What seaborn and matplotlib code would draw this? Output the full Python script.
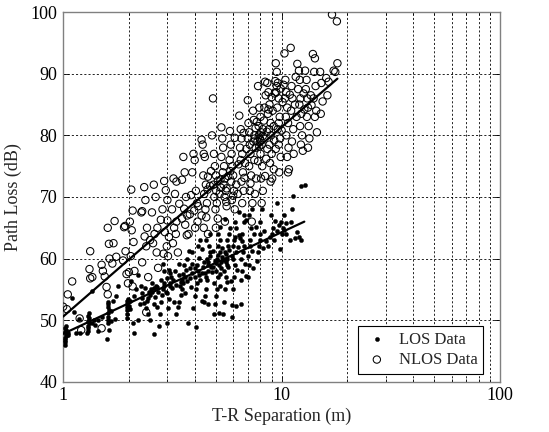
import matplotlib
matplotlib.use("Agg")
import matplotlib.pyplot as plt
import seaborn as sns
import pandas as pd
from matplotlib.ticker import FixedLocator, NullFormatter, FixedFormatter

# ---------------- data ----------------
los_points = [
    (1.02, 46.0), (1.02, 46.4), (1.02, 46.8), (1.02, 47.2), (1.03, 47.5), (1.03, 47.8), (1.02, 48.1),
    (1.03, 48.4), (1.02, 48.8), (1.03, 49.0), (1.05, 47.6), (1.05, 48.0),
    (1.1, 53.6), (1.12, 51.4), (1.18, 50.2), (1.2, 47.9), (1.15, 48.0),
    (1.3, 48.3), (1.3, 48.7), (1.3, 49.1), (1.31, 49.5), (1.3, 49.9), (1.31, 50.3), (1.3, 50.7),
    (1.32, 51.1), (1.35, 54.8), (1.28, 47.9), (1.35, 49.6), (1.38, 50.0), (1.45, 48.2), (1.5, 50.5),
    (1.45, 50.0), (1.4, 49.2),
    (1.6, 49.6), (1.6, 50.1), (1.61, 50.6), (1.6, 51.1), (1.62, 51.6), (1.6, 52.1), (1.61, 52.7),
    (1.6, 53.0), (1.58, 47.0), (1.62, 48.4), (1.65, 49.8), (1.65, 51.5),
    (1.72, 50.2), (1.75, 54.0), (1.78, 55.6), (1.7, 53.2),
    (1.95, 50.3), (1.96, 51.0), (1.95, 51.6), (1.97, 52.1), (1.96, 52.6), (1.95, 53.1), (1.98, 53.5),
    (2.0, 52.3), (2.02, 51.8), (2.05, 56.4), (2.1, 48.0), (2.08, 49.5), (2.12, 54.0), (2.15, 55.1),
    (2.2, 57.4), (2.25, 52.6), (2.2, 50.1), (2.3, 53.6), (2.28, 55.5), (1.98, 52.9), (2.02, 53.2),
    (2.3, 54.4),
    (2.4, 52.0), (2.42, 53.1), (2.45, 53.6), (2.5, 54.1), (2.48, 54.6), (2.52, 55.1), (2.55, 56.0),
    (2.5, 50.1), (2.45, 51.0), (2.6, 47.8), (2.6, 52.6), (2.62, 53.8), (2.65, 55.6), (2.38, 55.2),
    (2.35, 52.8), (2.55, 54.6), (2.6, 55.2), (2.7, 55.4),
    (2.75, 49.1), (2.78, 51.0), (2.8, 53.0), (2.82, 54.1), (2.85, 55.1), (2.88, 56.0), (2.9, 58.0),
    (2.85, 59.1), (2.72, 54.6), (2.7, 52.2), (2.95, 54.6), (2.8, 56.6), (2.9, 55.5),
    (3.0, 49.5), (3.02, 52.0), (3.05, 53.5), (3.0, 54.5), (3.08, 55.5), (3.1, 56.0), (3.12, 57.0),
    (3.05, 58.1), (3.15, 55.2), (3.2, 53.0), (3.18, 56.6), (3.0, 56.9), (3.1, 57.6), (3.25, 58.0),
    (3.3, 51.0), (3.35, 52.1), (3.4, 53.0), (3.45, 54.1), (3.5, 55.0), (3.55, 56.0), (3.5, 56.6),
    (3.6, 57.0), (3.65, 58.1), (3.58, 59.0), (3.7, 60.0), (3.75, 61.2), (3.72, 49.6), (3.42, 55.6),
    (3.38, 57.4), (3.62, 54.5), (3.8, 56.8), (3.85, 55.4), (3.3, 55.8), (3.45, 56.2), (3.55, 57.5),
    (3.7, 56.3), (3.8, 58.4), (3.9, 59.2), (3.4, 59.2), (3.9, 61.0),
    (4.05, 48.9), (3.95, 52.0), (4.0, 54.0), (4.05, 55.0), (4.1, 56.0), (4.0, 57.0), (4.15, 58.0),
    (4.1, 59.0), (4.2, 60.1), (4.15, 62.0), (4.22, 63.0), (3.9, 57.7), (4.25, 56.5), (4.3, 53.2),
    (4.3, 57.6), (4.0, 58.5), (4.2, 57.3), (4.35, 58.6), (4.3, 61.5),
    (4.4, 53.0), (4.45, 54.0), (4.5, 55.0), (4.55, 56.5), (4.5, 57.0), (4.6, 58.0), (4.62, 59.0),
    (4.55, 60.0), (4.68, 61.0), (4.65, 62.0), (4.7, 64.0), (4.48, 57.6), (4.75, 58.6), (4.58, 52.6),
    (4.4, 59.5), (4.6, 59.4), (4.7, 60.4), (4.8, 57.8), (4.85, 61.2), (4.5, 63.0),
    (4.9, 51.0), (4.95, 52.6), (5.0, 54.0), (5.05, 55.0), (4.9, 56.0), (5.1, 57.0), (5.0, 58.0),
    (5.15, 59.0), (5.05, 60.0), (5.2, 61.0), (5.1, 62.0), (5.2, 63.0), (5.12, 64.0), (5.25, 57.5),
    (5.3, 59.4), (4.85, 58.6), (4.95, 59.6), (5.25, 55.6), (5.15, 51.1), (5.0, 59.3), (5.1, 60.6),
    (5.3, 58.5), (5.35, 61.7), (5.2, 65.2),
    (5.4, 51.0), (5.45, 53.0), (5.5, 55.0), (5.55, 57.0), (5.45, 58.0), (5.6, 59.0), (5.55, 59.5),
    (5.65, 60.0), (5.5, 61.0), (5.7, 62.0), (5.6, 63.0), (5.75, 64.0), (5.8, 65.0), (5.62, 56.2),
    (5.35, 60.3), (5.45, 59.7), (5.55, 60.8), (5.7, 58.7), (5.75, 61.4), (5.5, 66.4),
    (5.95, 50.6), (5.9, 52.5), (6.0, 55.0), (6.05, 57.0), (6.1, 59.0), (6.0, 60.0), (6.15, 61.0),
    (6.05, 63.0), (6.2, 65.0), (6.1, 66.0), (6.25, 58.2), (5.85, 56.4), (6.2, 52.3), (6.3, 61.9),
    (5.9, 60.4), (6.0, 62.1), (6.1, 63.5), (6.35, 63.8),
    (6.5, 52.7), (6.55, 56.5), (6.6, 58.0), (6.5, 60.0), (6.65, 61.0), (6.7, 62.0), (6.6, 64.0),
    (6.75, 66.0), (6.7, 67.0), (6.45, 63.3), (6.8, 59.2), (6.85, 57.1), (6.6, 62.8), (6.4, 67.5),
    (6.9, 66.2),
    (7.0, 57.0), (7.1, 59.0), (7.05, 60.5), (7.2, 62.0), (7.15, 63.0), (7.25, 65.0), (7.1, 67.0),
    (7.3, 68.0), (7.35, 61.2), (7.4, 58.4), (7.5, 64.0),
    (7.7, 59.6), (7.8, 61.0), (7.9, 62.0), (8.0, 63.0), (7.95, 66.0), (8.1, 68.0), (8.2, 61.7),
    (8.3, 64.5), (7.6, 65.1), (8.0, 64.0), (8.5, 62.9),
    (8.7, 62.0), (8.8, 63.5), (9.0, 64.0), (9.1, 65.0), (8.9, 67.0), (9.3, 66.1), (9.2, 63.0),
    (9.5, 69.0), (9.5, 64.5), (9.7, 65.5),
    (9.8, 61.5), (10.0, 64.0), (10.1, 65.0), (9.9, 66.0), (10.3, 67.0), (10.2, 64.6), (10.5, 65.8),
    (10.5, 64.0),
    (10.9, 63.0), (11.0, 66.0), (11.1, 68.0), (11.3, 70.2), (11.5, 63.3), (11.7, 64.4),
    (12.3, 63.0), (12.3, 71.8), (12.0, 63.5), (12.8, 71.9),
]

nlos_points = [
    (1.0, 52.2), (1.04, 51.8), (1.05, 54.2), (1.1, 56.3), (1.19, 50.3), (1.21, 48.4),
    (1.33, 61.2), (1.32, 58.3), (1.36, 57.0), (1.33, 56.8), (1.5, 59.0), (1.52, 58.0), (1.55, 57.1),
    (1.6, 65.0), (1.62, 62.4), (1.63, 60.0), (1.58, 55.4), (1.6, 54.2), (1.5, 48.7),
    (1.72, 66.1), (1.7, 62.5), (1.75, 60.3), (1.68, 59.2), (1.92, 65.3), (1.9, 65.1), (1.93, 61.2),
    (1.95, 57.5), (1.98, 56.0), (1.88, 59.7),
    (2.05, 71.2), (2.08, 67.8), (2.02, 66.0), (2.06, 64.6), (2.1, 62.7), (2.04, 60.4), (2.12, 58.0),
    (2.08, 55.5), (2.0, 57.8),
    (2.35, 71.6), (2.38, 69.5), (2.3, 67.7), (2.42, 65.0), (2.36, 63.6), (2.4, 62.0), (2.3, 59.4),
    (2.45, 57.0), (2.4, 51.3), (2.28, 67.5),
    (2.6, 72.0), (2.65, 70.0), (2.55, 67.5), (2.7, 65.0), (2.62, 64.0), (2.58, 62.5), (2.68, 61.0),
    (2.72, 58.5), (2.5, 63.0), (2.8, 66.3),
    (2.9, 72.6), (2.95, 71.1), (2.85, 68.0), (3.0, 66.2), (2.92, 64.3), (2.98, 62.0), (2.88, 60.8),
    (3.02, 60.4), (3.05, 63.5), (3.0, 69.5),
    (3.2, 73.0), (3.25, 70.5), (3.15, 68.0), (3.3, 66.0), (3.22, 65.0), (3.28, 64.0), (3.18, 62.5),
    (3.35, 61.0), (3.3, 72.5), (3.4, 68.9),
    (3.55, 76.5), (3.6, 74.0), (3.5, 72.8), (3.65, 70.0), (3.58, 68.1), (3.7, 67.0), (3.62, 65.5),
    (3.75, 64.0), (3.68, 63.8), (3.5, 66.5), (3.8, 67.2),
    (3.95, 77.0), (4.0, 76.0), (3.9, 74.0), (4.05, 71.0), (4.1, 69.0), (3.98, 67.8), (4.12, 66.0),
    (4.02, 65.0), (4.15, 68.5), (3.85, 70.3),
    (4.3, 79.3), (4.35, 78.5), (4.4, 77.0), (4.45, 76.5), (4.38, 73.5), (4.5, 72.0), (4.42, 70.5),
    (4.55, 69.0), (4.48, 68.0), (4.52, 66.7), (4.4, 65.0), (4.6, 64.0), (4.58, 71.2), (4.3, 67.0),
    (4.7, 71.8), (4.6, 73.3),
    (4.85, 86.0), (4.8, 80.0), (4.9, 77.0), (4.95, 75.0), (5.0, 73.5), (4.88, 72.0), (5.02, 71.0),
    (4.92, 70.0), (5.05, 69.0), (4.98, 68.0), (5.1, 66.5), (5.0, 65.0), (4.75, 74.2), (5.1, 72.6),
    (5.3, 81.3), (5.35, 79.5), (5.4, 78.0), (5.3, 76.5), (5.45, 75.0), (5.38, 74.0), (5.5, 73.0),
    (5.42, 72.0), (5.55, 71.0), (5.48, 70.0), (5.6, 68.5), (5.5, 66.0), (5.28, 71.5), (5.58, 69.2),
    (5.2, 70.5), (5.25, 72.8), (5.6, 71.4), (5.7, 73.4),
    (5.8, 80.7), (5.85, 78.5), (5.9, 77.0), (5.78, 76.0), (5.95, 75.0), (6.0, 73.5), (5.88, 72.5),
    (6.05, 71.0), (5.92, 69.5), (6.1, 68.0), (6.0, 70.2), (5.82, 74.2), (6.2, 72.0), (6.3, 70.5),
    (6.1, 79.6),
    (6.4, 83.2), (6.5, 81.0), (6.55, 79.5), (6.45, 78.0), (6.6, 77.0), (6.5, 76.0), (6.65, 74.0),
    (6.55, 72.5), (6.7, 71.0), (6.6, 69.0), (6.35, 75.3), (6.75, 73.1), (6.8, 75.5), (6.9, 77.8),
    (6.7, 80.4),
    (7.0, 85.7), (7.05, 82.0), (7.1, 80.5), (7.0, 79.5), (7.15, 78.5), (7.2, 77.0), (7.1, 75.0),
    (7.25, 73.5), (7.15, 71.0), (7.3, 66.0), (7.35, 69.0), (7.4, 84.0), (7.45, 82.5), (7.5, 80.0),
    (7.55, 79.5), (7.42, 79.0), (7.6, 78.0), (7.5, 76.0), (7.65, 73.0), (7.55, 70.5), (7.2, 72.2),
    (7.6, 81.2), (7.7, 82.2), (7.75, 79.0),
    (7.8, 88.0), (7.9, 84.5), (8.0, 83.0), (7.85, 81.5), (8.05, 80.5), (7.95, 79.5), (8.1, 78.5),
    (8.0, 77.0), (8.15, 75.0), (8.05, 73.0), (8.2, 71.0), (8.1, 69.0), (7.9, 80.1), (8.0, 79.2),
    (7.85, 79.8), (8.2, 81.0), (7.9, 78.2), (8.2, 79.9), (8.3, 82.4), (8.35, 84.5), (8.45, 86.5),
    (8.4, 88.7), (8.55, 80.6), (8.6, 77.8), (7.8, 75.8), (8.4, 73.4), (8.5, 76.2),
    (8.6, 88.5), (8.7, 87.0), (8.8, 85.0), (8.65, 83.5), (8.9, 82.0), (8.75, 81.0), (8.95, 80.0),
    (8.8, 78.5), (9.0, 77.0), (8.85, 75.5), (9.05, 73.0), (8.9, 72.5), (8.7, 84.2), (9.0, 86.2),
    (9.1, 84.0), (9.2, 81.5), (9.25, 79.2), (9.3, 86.8), (9.35, 88.8), (9.2, 74.5), (9.4, 77.8),
    (9.4, 91.7), (9.5, 90.3), (9.6, 88.5), (9.45, 87.0), (9.7, 86.0), (9.55, 84.5), (9.8, 83.0),
    (9.6, 81.0), (9.85, 79.5), (9.7, 78.5), (9.9, 76.5), (9.75, 74.0), (9.5, 88.0), (9.9, 87.6),
    (9.7, 82.0), (10.0, 80.8), (10.1, 85.4), (10.2, 88.2),
    (10.3, 93.3), (10.4, 89.0), (10.5, 87.0), (10.35, 86.0), (10.6, 84.5), (10.45, 83.0),
    (10.7, 82.0), (10.5, 80.0), (10.75, 78.0), (10.6, 76.5), (10.8, 74.5), (10.7, 74.0),
    (11.0, 94.2), (11.1, 88.0), (11.2, 86.0), (11.05, 84.0), (11.3, 81.0), (11.15, 79.0), (11.35, 77.0),
    (10.9, 86.6), (11.5, 85.0), (11.6, 89.5), (11.7, 83.0),
    (11.8, 91.6), (12.0, 90.5), (12.1, 89.0), (11.9, 87.5), (12.2, 86.0), (12.05, 85.0), (12.3, 83.5),
    (12.15, 81.5), (12.4, 80.0), (12.25, 78.5), (12.5, 77.5),
    (12.8, 90.5), (13.0, 89.0), (12.9, 87.5), (13.1, 86.0), (13.2, 84.5), (13.05, 83.0), (13.3, 81.5),
    (13.4, 79.5), (13.2, 78.0), (12.6, 86.8), (12.7, 84.2),
    (13.9, 93.2), (14.2, 92.5), (14.1, 90.3), (14.3, 88.0), (14.0, 86.0), (14.4, 84.0), (14.2, 83.0),
    (14.5, 80.5), (13.6, 86.5), (13.7, 84.9),
    (15.0, 90.3), (15.2, 88.5), (15.4, 85.5), (15.1, 83.5),
    (16.0, 89.3), (16.4, 88.7), (16.2, 86.5),
    (17.0, 99.6), (17.3, 90.5), (17.9, 98.5), (18.0, 91.7), (17.6, 90.3),
]

los_dist = [p[0] for p in los_points]
los_pl = [p[1] for p in los_points]
nlos_dist = [p[0] for p in nlos_points]
nlos_pl = [p[1] for p in nlos_points]

# fitted lines (end points)
los_fit_x = [1.0, 12.7]
los_fit_y = [47.8, 66.0]
nlos_fit_x = [1.0, 18.0]
nlos_fit_y = [50.6, 89.2]

x_ticks = [1, 10, 100]
x_ticklabels = ["1", "10", "100"]
y_ticks = [40, 50, 60, 70, 80, 90, 100]

# ---------------- plotting ----------------
sns.set_theme(style="white")
plt.rcParams['font.family'] = ['Liberation Serif', 'DejaVu Serif']

fig = plt.figure(figsize=(5.49, 4.32), dpi=100)
ax = fig.add_axes([0.115, 0.116, 0.796, 0.856])

los_df = pd.DataFrame({"d": los_dist, "pl": los_pl})
nlos_df = pd.DataFrame({"d": nlos_dist, "pl": nlos_pl})

sns.scatterplot(data=nlos_df, x="d", y="pl", ax=ax, marker="o", s=28,
                facecolor="none", edgecolor="black", linewidth=0.75,
                label="NLOS Data", zorder=3)
sns.scatterplot(data=los_df, x="d", y="pl", ax=ax, marker="o", s=9,
                color="black", edgecolor="black", linewidth=0.3,
                label="LOS Data", zorder=4)

sns.lineplot(x=los_fit_x, y=los_fit_y, ax=ax, color="black", lw=1.6, zorder=5)
sns.lineplot(x=nlos_fit_x, y=nlos_fit_y, ax=ax, color="black", lw=1.6, zorder=5)

ax.set_xscale("log")
ax.set_xlim(1, 100)
ax.set_ylim(40, 100)

minor = [m * 10 ** e for e in (0, 1) for m in range(2, 10)]
ax.xaxis.set_major_locator(FixedLocator(x_ticks))
ax.xaxis.set_major_formatter(FixedFormatter(x_ticklabels))
ax.xaxis.set_minor_locator(FixedLocator(minor))
ax.xaxis.set_minor_formatter(NullFormatter())
ax.yaxis.set_major_locator(FixedLocator(y_ticks))

ax.grid(True, which="major", axis="both", color="black", linestyle=(0, (2.5, 2.5)), lw=0.6)
ax.grid(True, which="minor", axis="x", color="black", linestyle=(0, (2.5, 2.5)), lw=0.6)
ax.set_axisbelow(True)

for sp in ax.spines.values():
    sp.set_color("#808080")
    sp.set_linewidth(1.0)
    sp.set_visible(True)

ax.tick_params(which="both", direction="in", top=True, right=True, bottom=True, left=True,
               colors="black", labelsize=13, pad=4)
ax.tick_params(which="major", length=4, width=0.6)
ax.tick_params(which="minor", length=2.5, width=0.6)

ax.set_xlabel("T-R Separation (m)", fontsize=13, labelpad=2)
ax.set_ylabel("Path Loss (dB)", fontsize=13, labelpad=6)

handles, labels = ax.get_legend_handles_labels()
order = [labels.index("LOS Data"), labels.index("NLOS Data")]
leg = ax.legend([handles[i] for i in order], [labels[i] for i in order],
                loc="lower right", bbox_to_anchor=(0.961, 0.022), borderaxespad=0,
                fontsize=12, frameon=True, fancybox=False, framealpha=1,
                edgecolor="black", handletextpad=0.5, borderpad=0.35, labelspacing=0.25,
                handlelength=1.6)
leg.get_frame().set_linewidth(0.8)

fig.savefig("out.png", dpi=100)
